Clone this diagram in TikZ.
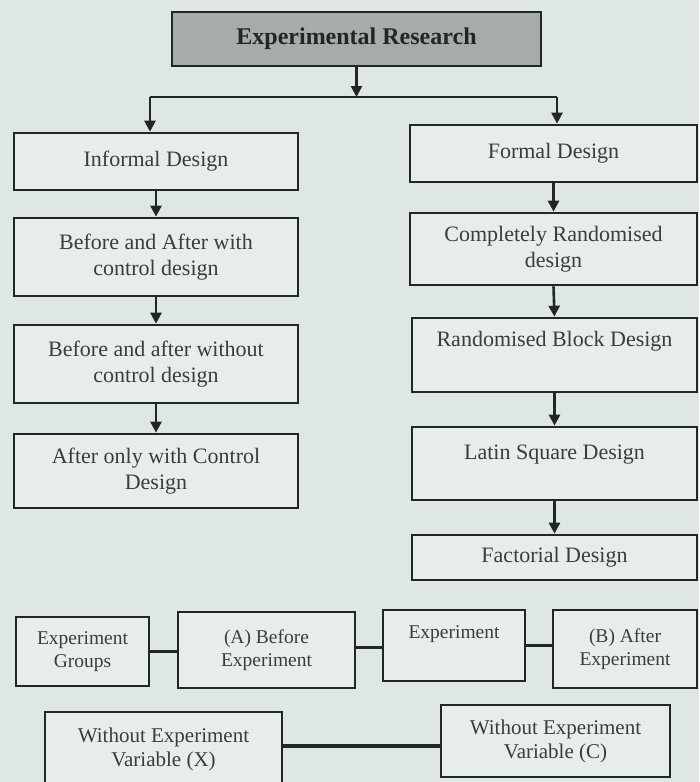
\documentclass[tikz,border=0pt]{standalone}
\usepackage{fontspec}
\setmainfont{Liberation Serif}
\usetikzlibrary{arrows.meta}
\definecolor{paper}{RGB}{222,231,229}
\definecolor{boxfill}{RGB}{230,237,235}
\definecolor{ink}{RGB}{34,38,38}
\definecolor{txt}{RGB}{56,62,62}
\definecolor{headfill}{RGB}{166,172,170}
\tikzset{
  box/.style={draw=ink, line width=2.7pt, fill=boxfill, text=txt, align=center,
    inner sep=2pt, font=\fontsize{22}{26}\selectfont},
  smallbox/.style={box, font=\fontsize{19.5}{22.5}\selectfont},
  arr/.style={draw=ink, line width=2.6pt, -{Triangle[width=11pt,length=11pt]}},
  forkline/.style={draw=ink, line width=2.6pt},
  link/.style={draw=ink, line width=3.2pt},
}
\begin{document}
\begin{tikzpicture}[x=1pt, y=-1pt]
  % page and background
  \clip (0,0) rectangle (699,782);
  \useasboundingbox (0,0) rectangle (699,782);
  \fill[paper] (0,0) rectangle (699,782);

  % root
  \node[box, minimum width=369pt, minimum height=54pt, fill=headfill, text=ink,
        font=\bfseries\fontsize{24}{28}\selectfont] (top) at (356.5,39) {Experimental Research};

  % left column: informal designs
  \node[box, minimum width=284pt, minimum height=57pt] (informal) at (156,161.5) {Informal Design};
  \node[box, minimum width=284pt, minimum height=78pt] (bac) at (156,257) {Before and After with\\control design};
  \node[box, minimum width=284pt, minimum height=78pt] (bawo) at (156,364) {Before and after without\\control design};
  \node[box, minimum width=284pt, minimum height=74pt] (aoc) at (156,471) {After only with Control\\Design};

  % right column: formal designs
  \node[box, minimum width=287pt, minimum height=57pt] (formal) at (553.5,153.5) {Formal Design};
  \node[box, minimum width=287pt, minimum height=72pt] (crd) at (553.5,249) {Completely Randomised\\design};
  \node[box, minimum width=285pt, minimum height=74pt, text height=16pt, text depth=34pt] (rbd) at (554.5,355) {Randomised Block Design};
  \node[box, minimum width=285pt, minimum height=73pt, text height=16pt, text depth=25pt] (lsd) at (554.5,463.5) {Latin Square Design};
  \node[box, minimum width=285pt, minimum height=45pt] (fd) at (554.5,557.5) {Factorial Design};

  % split below the root
  \coordinate (fork) at (356.5,97);
  \coordinate (forkL) at (150,97);
  \coordinate (forkR) at (557,97);
  \draw[arr] (top.south) -- (fork);
  \draw[forkline] (forkL) -- (forkR);
  \draw[arr] (forkL) -- (forkL |- informal.north);
  \draw[arr] (forkR) -- (forkR |- formal.north);

  % column arrows
  \draw[arr] (informal.south) -- (bac.north);
  \draw[arr] (bac.south) -- (bawo.north);
  \draw[arr] (bawo.south) -- (aoc.north);
  \draw[arr] (formal.south) -- (crd.north);
  \draw[arr] (crd.south) -- (rbd.north);
  \draw[arr] (rbd.south) -- (lsd.north);
  \draw[arr] (lsd.south) -- (fd.north);

  % experiment sequence
  \node[smallbox, minimum width=133pt, minimum height=69pt] (eg) at (82.5,651.5) {Experiment\\Groups};
  \node[smallbox, minimum width=177pt, minimum height=76pt] (abe) at (266.5,650) {(A) Before\\Experiment};
  \node[smallbox, minimum width=142pt, minimum height=71pt, text height=15pt, text depth=30pt] (exp) at (454,645.5) {Experiment};
  \node[smallbox, minimum width=144pt, minimum height=78pt] (bae) at (625,649) {(B) After\\Experiment};
  \draw[link] (eg.east) -- (eg.east -| abe.west);
  \draw[link] (abe.east |- exp.west) ++(0,2) -- ([yshift=-2pt]exp.west);
  \draw[link] (exp.east) -- (exp.east -| bae.west);

  % control groups
  \node[box, font=\fontsize{21}{24}\selectfont, minimum width=237pt, minimum height=74pt] (wx) at (163.5,749) {Without Experiment\\Variable (X)};
  \node[box, font=\fontsize{21}{24}\selectfont, minimum width=229pt, minimum height=72pt] (wc) at (555.5,741) {Without Experiment\\Variable (C)};
  \draw[link] (wx.east |- wc.west) ++(0,5) -- ([yshift=-5pt]wc.west);
\end{tikzpicture}
\end{document}
